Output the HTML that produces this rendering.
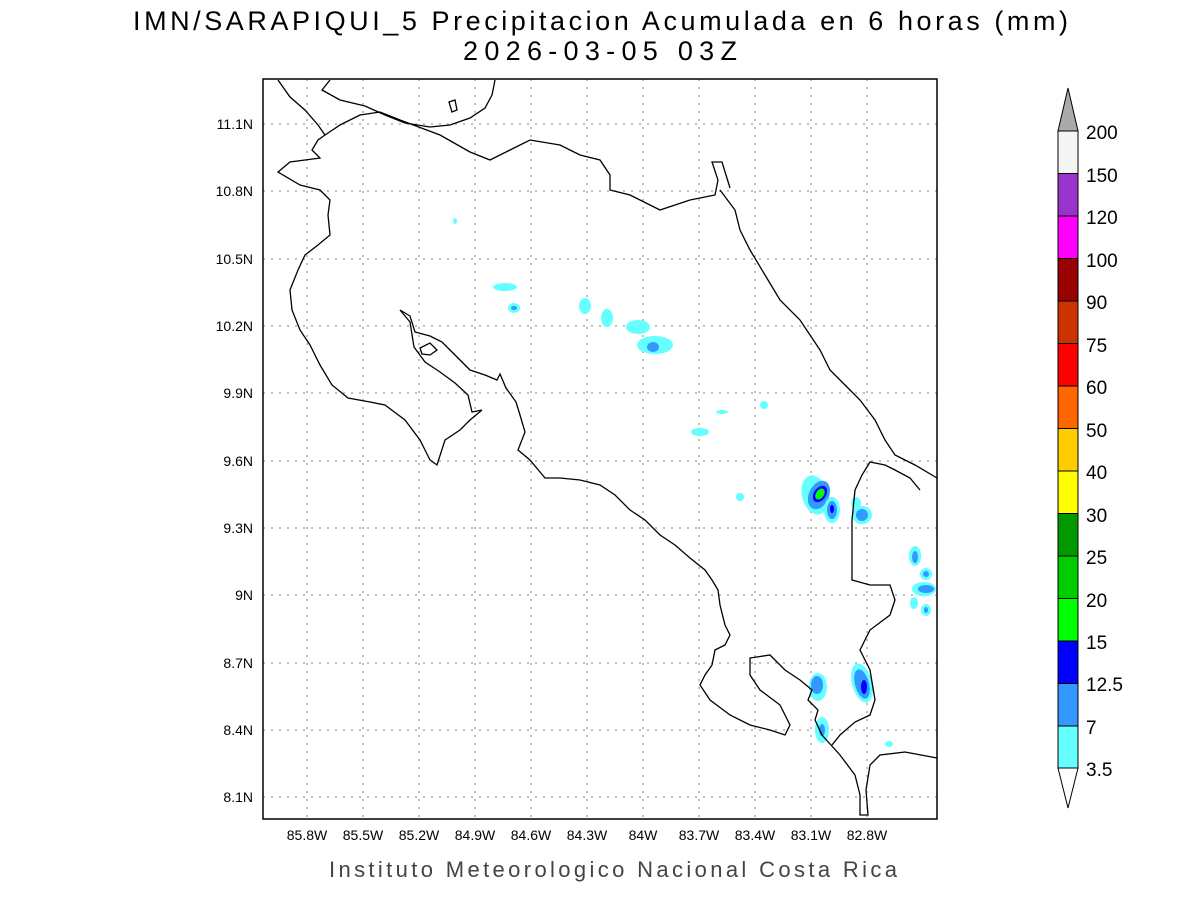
<!DOCTYPE html>
<html><head><meta charset="utf-8"><style>
body{margin:0;background:#fff;}
svg{display:block;}
text{font-family:"Liberation Sans",sans-serif;}
</style></head><body>
<svg width="1200" height="900" viewBox="0 0 1200 900" xmlns="http://www.w3.org/2000/svg">
<rect width="1200" height="900" fill="#fff"/>
<text x="133" y="30" font-size="27" textLength="935" lengthAdjust="spacing">IMN/SARAPIQUI_5 Precipitacion Acumulada en 6 horas (mm)</text>
<text x="463" y="60" font-size="27" textLength="274" lengthAdjust="spacing">2026-03-05 03Z</text>
<text x="329" y="877" font-size="22" fill="#444" textLength="568" lengthAdjust="spacing">Instituto Meteorologico Nacional Costa Rica</text>
<g stroke="#aaa" stroke-width="1.5" stroke-dasharray="2,6">
<line x1="307" y1="79" x2="307" y2="819"/><line x1="363" y1="79" x2="363" y2="819"/><line x1="419" y1="79" x2="419" y2="819"/><line x1="475" y1="79" x2="475" y2="819"/><line x1="531" y1="79" x2="531" y2="819"/><line x1="587" y1="79" x2="587" y2="819"/><line x1="643" y1="79" x2="643" y2="819"/><line x1="699" y1="79" x2="699" y2="819"/><line x1="755" y1="79" x2="755" y2="819"/><line x1="811" y1="79" x2="811" y2="819"/><line x1="867" y1="79" x2="867" y2="819"/>
<line x1="263" y1="124" x2="937" y2="124"/><line x1="263" y1="191" x2="937" y2="191"/><line x1="263" y1="259" x2="937" y2="259"/><line x1="263" y1="326" x2="937" y2="326"/><line x1="263" y1="393" x2="937" y2="393"/><line x1="263" y1="461" x2="937" y2="461"/><line x1="263" y1="528" x2="937" y2="528"/><line x1="263" y1="595" x2="937" y2="595"/><line x1="263" y1="663" x2="937" y2="663"/><line x1="263" y1="730" x2="937" y2="730"/><line x1="263" y1="797" x2="937" y2="797"/>
</g>
<g>
<ellipse cx="455" cy="221" rx="2" ry="3" fill="#66ffff"/>
<ellipse cx="505" cy="287" rx="12" ry="4" fill="#66ffff"/>
<ellipse cx="514" cy="308" rx="6" ry="5" fill="#66ffff"/><ellipse cx="514" cy="308" rx="3" ry="2" fill="#3399ff"/>
<ellipse cx="585" cy="306" rx="6" ry="8" fill="#66ffff"/>
<ellipse cx="607" cy="318" rx="6" ry="9" fill="#66ffff"/>
<ellipse cx="638" cy="327" rx="12" ry="7" fill="#66ffff"/>
<ellipse cx="655" cy="345" rx="18" ry="9" fill="#66ffff"/><ellipse cx="653" cy="347" rx="6" ry="5" fill="#3399ff"/>
<ellipse cx="722" cy="412" rx="6" ry="2" fill="#66ffff"/>
<ellipse cx="764" cy="405" rx="4" ry="4" fill="#66ffff"/>
<ellipse cx="700" cy="432" rx="9" ry="4" fill="#66ffff"/>
<ellipse cx="740" cy="497" rx="4" ry="4" fill="#66ffff"/>
<ellipse cx="815" cy="495" rx="13" ry="20" fill="#66ffff" transform="rotate(-15 815 495)"/>
<ellipse cx="819" cy="495" rx="10" ry="15" fill="#3399ff" transform="rotate(25 819 495)"/>
<ellipse cx="820" cy="494" rx="6" ry="9" fill="#0000ff" transform="rotate(35 820 494)"/>
<ellipse cx="820" cy="494" rx="4" ry="6" fill="#00ff00" transform="rotate(35 820 494)"/>
<ellipse cx="832" cy="510" rx="8" ry="13" fill="#66ffff"/><ellipse cx="832" cy="510" rx="5" ry="9" fill="#3399ff"/><ellipse cx="832" cy="509" rx="2" ry="4" fill="#0000ff"/>
<ellipse cx="856" cy="503" rx="5" ry="6" fill="#66ffff"/>
<ellipse cx="862" cy="515" rx="10" ry="9" fill="#66ffff"/><ellipse cx="862" cy="515" rx="6" ry="6" fill="#3399ff"/>
<ellipse cx="915" cy="556" rx="6" ry="10" fill="#66ffff"/><ellipse cx="915" cy="557" rx="3" ry="6" fill="#3399ff"/>
<ellipse cx="926" cy="574" rx="6" ry="6" fill="#66ffff"/><ellipse cx="926" cy="574" rx="3" ry="3" fill="#3399ff"/>
<ellipse cx="924" cy="589" rx="12" ry="7" fill="#66ffff"/><ellipse cx="926" cy="589" rx="8" ry="4" fill="#3399ff"/>
<ellipse cx="914" cy="603" rx="4" ry="6" fill="#66ffff"/>
<ellipse cx="926" cy="610" rx="5" ry="6" fill="#66ffff"/><ellipse cx="926" cy="610" rx="2" ry="3" fill="#3399ff"/>
<ellipse cx="818" cy="687" rx="9" ry="14" fill="#66ffff"/><ellipse cx="817" cy="685" rx="6" ry="9" fill="#3399ff"/>
<ellipse cx="862" cy="683" rx="10" ry="20" fill="#66ffff" transform="rotate(-15 862 683)"/><ellipse cx="862" cy="684" rx="7" ry="15" fill="#3399ff" transform="rotate(-15 862 684)"/><ellipse cx="864" cy="687" rx="3" ry="7" fill="#0000ff"/>
<ellipse cx="822" cy="730" rx="7" ry="13" fill="#66ffff"/><ellipse cx="822" cy="730" rx="3" ry="6" fill="#3399ff"/>
<ellipse cx="889" cy="744" rx="4" ry="3" fill="#66ffff"/>
</g>
<g fill="none" stroke="#000" stroke-width="1.3">
<polyline points="278,80 290,97 305,110 318,125 325,135 318,140 312,150 320,158 305,160 290,162 278,172 300,185 320,190 330,200 328,215 330,235 318,245 305,255 298,270 290,290 292,310 300,330 310,345 320,365 332,385 348,398 370,402 385,405 405,420 420,440 430,460 437,465 445,440 460,430 470,420 482,410"/>
<polyline points="482,410 472,412 468,395 455,383 440,372 425,362 414,347 410,322 400,310"/>
<polyline points="400,310 410,316 415,332 430,336 442,342 455,355 470,370 485,375 497,380 500,374 506,388 516,402 520,415 525,432 518,450 530,460 545,478 560,478 580,480 600,485 615,495 630,510 645,520 660,535 675,545 690,558 705,570 712,580 718,590 720,605 725,625 730,635 725,645 715,650 712,665 705,675 700,685 710,700 730,715 750,725 770,730 785,735 790,725 780,705 760,690 750,675 750,658 770,655 785,670 800,680 812,690 808,700 818,710 815,720 822,735 840,755 855,775 860,795 860,815 868,815 866,790 870,765 880,755 905,752 937,758"/>
<polyline points="832,745 840,735 855,722 870,715 875,700 870,670 860,650 870,630 890,615 895,600 890,585 870,585 852,580 852,520 855,490 862,475 870,462 885,465 895,470 910,478 920,490"/>
<polyline points="325,135 340,125 360,115 380,112 400,120 440,135 470,152 490,160 510,150 530,140 560,145 580,155 600,160 610,175 610,190 630,195 660,210 690,200 715,195 718,180 712,162 722,162 730,188"/>
<polyline points="720,190 735,210 740,230 750,250 765,275 780,300 800,320 820,350 830,370 845,385 860,400 875,420 885,440 895,455 915,465 937,478"/>
<polyline points="330,80 322,90 340,100 365,106 385,115 405,123 430,127 450,125 470,118 485,108 492,95 495,80"/>
<polygon points="449,102 455,100 457,110 452,112"/>
<polygon points="420,348 430,343 437,350 430,355 422,354"/>
</g>
<rect x="263" y="79" width="674" height="740" fill="none" stroke="#000" stroke-width="1.5"/>
<g font-size="14" text-anchor="middle">
<text x="307" y="840">85.8W</text><text x="363" y="840">85.5W</text><text x="419" y="840">85.2W</text><text x="475" y="840">84.9W</text><text x="531" y="840">84.6W</text><text x="587" y="840">84.3W</text><text x="643" y="840">84W</text><text x="699" y="840">83.7W</text><text x="755" y="840">83.4W</text><text x="811" y="840">83.1W</text><text x="867" y="840">82.8W</text>
</g>
<g font-size="14" text-anchor="end">
<text x="253" y="129">11.1N</text><text x="253" y="196">10.8N</text><text x="253" y="264">10.5N</text><text x="253" y="331">10.2N</text><text x="253" y="398">9.9N</text><text x="253" y="466">9.6N</text><text x="253" y="533">9.3N</text><text x="253" y="600">9N</text><text x="253" y="668">8.7N</text><text x="253" y="735">8.4N</text><text x="253" y="802">8.1N</text>
</g>
<g stroke="#000" stroke-width="1">
<polygon points="1058,131 1078,131 1068,88" fill="#aaaaaa"/>
<rect x="1058" y="131" width="20" height="42.5" fill="#f5f5f5"/>
<rect x="1058" y="173.5" width="20" height="42.5" fill="#9933cc"/>
<rect x="1058" y="216" width="20" height="42.5" fill="#ff00ff"/>
<rect x="1058" y="258.5" width="20" height="42.5" fill="#990000"/>
<rect x="1058" y="301" width="20" height="42.5" fill="#cc3300"/>
<rect x="1058" y="343.5" width="20" height="42.5" fill="#ff0000"/>
<rect x="1058" y="386" width="20" height="42.5" fill="#ff6600"/>
<rect x="1058" y="428.5" width="20" height="42.5" fill="#ffcc00"/>
<rect x="1058" y="471" width="20" height="42.5" fill="#ffff00"/>
<rect x="1058" y="513.5" width="20" height="42.5" fill="#009900"/>
<rect x="1058" y="556" width="20" height="42.5" fill="#00cc00"/>
<rect x="1058" y="598.5" width="20" height="42.5" fill="#00ff00"/>
<rect x="1058" y="641" width="20" height="42.5" fill="#0000ff"/>
<rect x="1058" y="683.5" width="20" height="42.5" fill="#3399ff"/>
<rect x="1058" y="726" width="20" height="42" fill="#66ffff"/>
<polygon points="1058,768 1078,768 1068,808" fill="#fff"/>
</g>
<g font-size="19">
<text x="1086" y="139">200</text><text x="1086" y="182">150</text><text x="1086" y="224">120</text><text x="1086" y="267">100</text><text x="1086" y="309">90</text><text x="1086" y="352">75</text><text x="1086" y="394">60</text><text x="1086" y="437">50</text><text x="1086" y="479">40</text><text x="1086" y="522">30</text><text x="1086" y="564">25</text><text x="1086" y="607">20</text><text x="1086" y="649">15</text><text x="1086" y="691">12.5</text><text x="1086" y="734">7</text><text x="1086" y="776">3.5</text>
</g>
</svg>
</body></html>
